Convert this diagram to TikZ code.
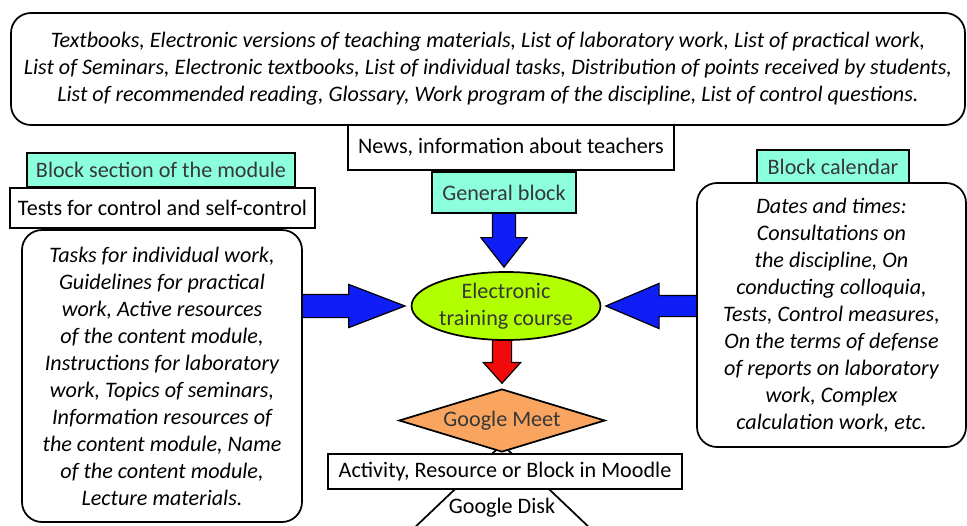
\documentclass[tikz,border=0pt]{standalone}
\usepackage{fontspec}
\setmainfont{Carlito}
\usetikzlibrary{shapes.geometric,shapes.arrows,calc}
\pgfdeclarelayer{background}
\pgfsetlayers{background,main}
\definecolor{blockcyan}{RGB}{140,255,220}
\definecolor{coursegreen}{RGB}{178,255,0}
\definecolor{meetorange}{RGB}{250,165,95}
\definecolor{arrowblue}{RGB}{15,30,245}
\definecolor{arrowred}{RGB}{240,10,10}
\definecolor{labelgray}{RGB}{55,55,55}
\tikzset{
	plainbox/.style={draw, line width=1.3pt, fill=white, inner sep=0pt},
	roundbox/.style={plainbox, rounded corners=15pt, align=center, font=\fontsize{16.6}{20.25}\selectfont\itshape},
	headbox/.style={plainbox, fill=blockcyan, text=labelgray},
	bigarrow/.style={single arrow, draw, line width=0.9pt, inner xsep=0pt, single arrow head indent=0pt, anchor=tip}
}
\begin{document}
\begin{tikzpicture}[x=0.75pt, y=-0.75pt, font=\fontsize{16.6}{20.25}\selectfont]
	\useasboundingbox (0,0) rectangle (967,525);
	\clip (0,0) rectangle (967,525);
	
	\node[roundbox, minimum width=715.5pt, minimum height=84pt] (materials) at (488,69)
		{Textbooks, Electronic versions of teaching materials, List of laboratory work, List of practical work,\\
		List of Seminars, Electronic textbooks, List of individual tasks, Distribution of points received by students,\\
		List of recommended reading, Glossary, Work program of the discipline, List of control questions.};
	\node[plainbox, minimum width=244.5pt, minimum height=33.75pt] (news) at (511,147.5) {News, information about teachers};
	\node[headbox, minimum width=108pt, minimum height=30.75pt] (general) at (504,192.5) {General block};
	
	\node[headbox, minimum width=201pt, minimum height=25.5pt] (module) at (161,170) {Block section of the module};
	\node[plainbox, minimum width=228.75pt, minimum height=30pt] (tests) at (162.5,208) {Tests for control and self-control};
	\node[roundbox, minimum width=210pt, minimum height=219pt] (resources) at (162,376)
		{Tasks for individual work,\\ Guidelines for practical\\ work, Active resources\\ of the content module,\\
		Instructions for laboratory\\ work, Topics of seminars,\\ Information resources of\\ the content module, Name\\
		of the content module,\\ Lecture materials.};
	
	\node[headbox, minimum width=114pt, minimum height=24.75pt] (calendar) at (833,166.5) {Block calendar};
	\node[roundbox, minimum width=201.75pt, minimum height=198pt] (dates) at (831.5,315)
		{Dates and times:\\ Consultations on\\ the discipline, On\\ conducting colloquia,\\ Tests, Control measures,\\
		On the terms of defense\\ of reports on laboratory\\ work, Complex\\ calculation work, etc.};
	
	\node[ellipse, draw, line width=1.3pt, fill=coursegreen, text=labelgray, inner sep=0pt, align=center,
		minimum width=133.5pt, minimum height=51pt] (course) at (506,306) {Electronic\\ training course};
	
	\node[diamond, draw, line width=1.3pt, fill=white, inner sep=0pt, aspect=1.05,
		minimum width=189pt, minimum height=180pt] (disk) at (502,564) {};
	\node (disklabel) at (502,508) {Google Disk};
	\node[diamond, draw, line width=1.3pt, fill=meetorange, text=labelgray, inner sep=0pt, aspect=3.27,
		minimum width=154.5pt, minimum height=47.25pt] (meet) at (502,420.5) {Google Meet};
	\node[plainbox, minimum width=265.5pt, minimum height=26.25pt] (moodle) at (505,471.5) {Activity, Resource or Block in Moodle};
	
	\begin{pgfonlayer}{background}
		\node[bigarrow, fill=arrowblue, rotate=-90, minimum height=52.5pt, minimum width=33.75pt,
			inner ysep=8.25pt, single arrow head extend=8.6pt, single arrow tip angle=76]
			(downarrow) at ($(course.north)+(-2,-3)$) {};
		\node[bigarrow, fill=arrowblue, minimum height=97.5pt, minimum width=31.5pt,
			inner ysep=8.25pt, single arrow head extend=7.5pt, single arrow tip angle=42]
			(leftarrow) at ($(course.west)+(-4,0)$) {};
		\node[bigarrow, fill=arrowblue, rotate=180, minimum height=90pt, minimum width=33pt,
			inner ysep=7.5pt, single arrow head extend=9pt, single arrow tip angle=46]
			(rightarrow) at ($(course.east)+(3,0)$) {};
		\node[bigarrow, fill=arrowred, rotate=-90, minimum height=45pt, minimum width=27pt,
			inner ysep=6.75pt, single arrow head extend=6.75pt, single arrow tip angle=84]
			(redarrow) at ($(meet.north)+(0,-4)$) {};
	\end{pgfonlayer}
\end{tikzpicture}
\end{document}
